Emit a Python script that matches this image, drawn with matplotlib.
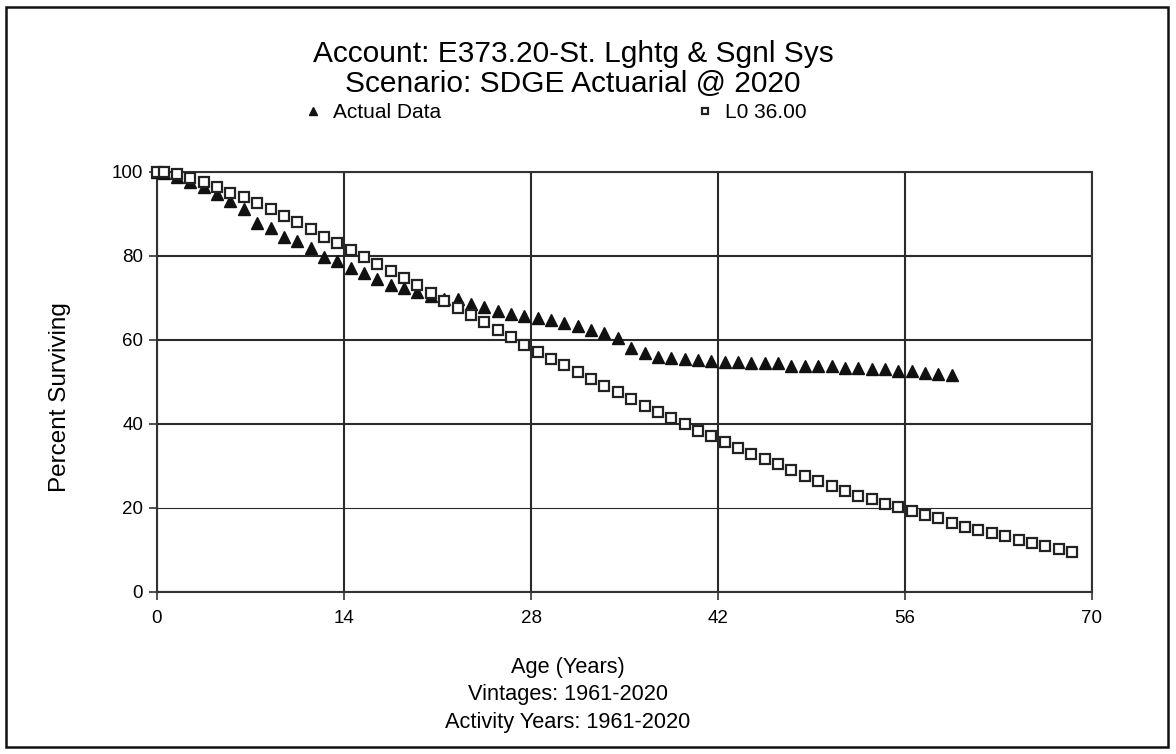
import matplotlib
matplotlib.use("Agg")
import matplotlib.pyplot as plt
from matplotlib.patches import Rectangle

plt.rcParams['font.family'] = ['Liberation Sans', 'DejaVu Sans']

# Actual data (ages at half-year points)
actual_age = [0, 0.5, 1.5, 2.5, 3.5, 4.5, 5.5, 6.5, 7.5, 8.5, 9.5, 10.5, 11.5, 12.5, 13.5,
              14.5, 15.5, 16.5, 17.5, 18.5, 19.5, 20.5, 21.5, 22.5, 23.5, 24.5, 25.5, 26.5,
              27.5, 28.5, 29.5, 30.5, 31.5, 32.5, 33.5, 34.5, 35.5, 36.5, 37.5, 38.5, 39.5,
              40.5, 41.5, 42.5, 43.5, 44.5, 45.5, 46.5, 47.5, 48.5, 49.5, 50.5, 51.5, 52.5,
              53.5, 54.5, 55.5, 56.5, 57.5, 58.5, 59.5]
actual_pct = [100, 99.6, 98.8, 97.6, 96.2, 94.7, 93.0, 91.2, 87.8, 86.5, 84.4, 83.4, 81.9,
              79.6, 78.6, 77.0, 75.8, 74.4, 73.1, 72.2, 71.3, 70.5, 69.6, 69.6, 68.6, 67.7,
              66.8, 66.2, 65.6, 65.1, 64.6, 63.9, 63.3, 62.3, 61.7, 60.5, 58.0, 56.8, 55.9,
              55.6, 55.3, 55.1, 54.9, 54.7, 54.6, 54.4, 54.4, 54.4, 53.8, 53.8, 53.7, 53.7,
              53.3, 53.2, 53.0, 53.0, 52.6, 52.5, 52.1, 51.8, 51.5]

# L0 36.00 curve
curve_age = [0, 0.5, 1.5, 2.5, 3.5, 4.5, 5.5, 6.5, 7.5, 8.5, 9.5, 10.5, 11.5, 12.5, 13.5,
             14.5, 15.5, 16.5, 17.5, 18.5, 19.5, 20.5, 21.5, 22.5, 23.5, 24.5, 25.5, 26.5,
             27.5, 28.5, 29.5, 30.5, 31.5, 32.5, 33.5, 34.5, 35.5, 36.5, 37.5, 38.5, 39.5,
             40.5, 41.5, 42.5, 43.5, 44.5, 45.5, 46.5, 47.5, 48.5, 49.5, 50.5, 51.5, 52.5,
             53.5, 54.5, 55.5, 56.5, 57.5, 58.5, 59.5, 60.5, 61.5, 62.5, 63.5, 64.5, 65.5,
             66.5, 67.5, 68.5]
curve_pct = [100, 99.8, 99.3, 98.4, 97.4, 96.2, 95.0, 93.9, 92.4, 91.0, 89.4, 87.9, 86.3,
             84.5, 83.0, 81.3, 79.7, 78.1, 76.3, 74.6, 72.9, 71.1, 69.3, 67.5, 65.8, 64.1,
             62.3, 60.6, 58.8, 57.1, 55.5, 53.9, 52.2, 50.6, 49.1, 47.5, 45.8, 44.3, 42.8,
             41.3, 39.9, 38.4, 37.1, 35.6, 34.2, 32.9, 31.6, 30.4, 29.0, 27.7, 26.4, 25.1,
             24.1, 22.9, 22.0, 20.9, 20.1, 19.2, 18.3, 17.5, 16.4, 15.5, 14.7, 14.0, 13.2,
             12.4, 11.7, 11.0, 10.3, 9.6]

x_ticks = [0, 14, 28, 42, 56, 70]
y_ticks = [0, 20, 40, 60, 80, 100]

W, H = 1176, 754
fig = plt.figure(figsize=(W / 100, H / 100), dpi=100)
ax = fig.add_axes([157 / W, 1 - 592 / H, (1092 - 157) / W, (592 - 171.5) / H])

h1, = ax.plot(actual_age, actual_pct, linestyle='none', marker='^', markersize=9,
              color='#111111', clip_on=False, zorder=3)
h2, = ax.plot(curve_age, curve_pct, linestyle='none', marker='s', markersize=7.5,
              markerfacecolor='white', markeredgecolor='#222222', markeredgewidth=1.6,
              clip_on=False, zorder=4)

ax.set_xlim(0, 70)
ax.set_ylim(0, 100)
ax.set_xticks(x_ticks)
ax.set_yticks(y_ticks)
ax.tick_params(direction='out', length=6, width=1.2, color='#333333', labelsize=13.5)
ax.tick_params(axis='x', pad=7)
ax.tick_params(axis='y', pad=4)
ax.grid(True, color='#2a2a2a', linewidth=1.5)
ax.get_ygridlines()[1].set_linewidth(0.8)
for s in ax.spines.values():
    s.set_color('#333333')
    s.set_linewidth(1.5)

# titles
fig.text(573 / W, 1 - 62 / H, 'Account: E373.20-St. Lghtg & Sgnl Sys', ha='center',
         va='baseline', fontsize=21.5)
fig.text(573 / W, 1 - 92 / H, 'Scenario: SDGE Actuarial @ 2020', ha='center',
         va='baseline', fontsize=21.5)

# legend
fig.legend(handles=[h1], labels=['Actual Data'], loc='center left',
           bbox_to_anchor=(303 / W, 1 - 113 / H), frameon=False, fontsize=15,
           handlelength=1, handletextpad=0.45, borderpad=0, borderaxespad=0,
           markerscale=0.65)
fig.legend(handles=[h2], labels=['L0 36.00'], loc='center left',
           bbox_to_anchor=(695 / W, 1 - 113 / H), frameon=False, fontsize=15,
           handlelength=1, handletextpad=0.45, borderpad=0, borderaxespad=0,
           markerscale=0.65)

# axis labels
fig.text(60 / W, 1 - 397 / H, 'Percent Surviving', rotation=90, ha='center',
         va='center', fontsize=17.5)
fig.text(568 / W, 1 - 673 / H, 'Age (Years)', ha='center', va='baseline', fontsize=15.7)
fig.text(568 / W, 1 - 700 / H, 'Vintages: 1961-2020', ha='center', va='baseline',
         fontsize=15.7)
fig.text(568 / W, 1 - 728 / H, 'Activity Years: 1961-2020', ha='center',
         va='baseline', fontsize=15.7)

# outer frame
fig.add_artist(Rectangle((6 / W, 1 - 747 / H), (1168 - 6) / W, (747 - 7) / H,
                         transform=fig.transFigure, fill=False, edgecolor='#111111',
                         linewidth=1.8))

fig.savefig('out.png', dpi=100)
